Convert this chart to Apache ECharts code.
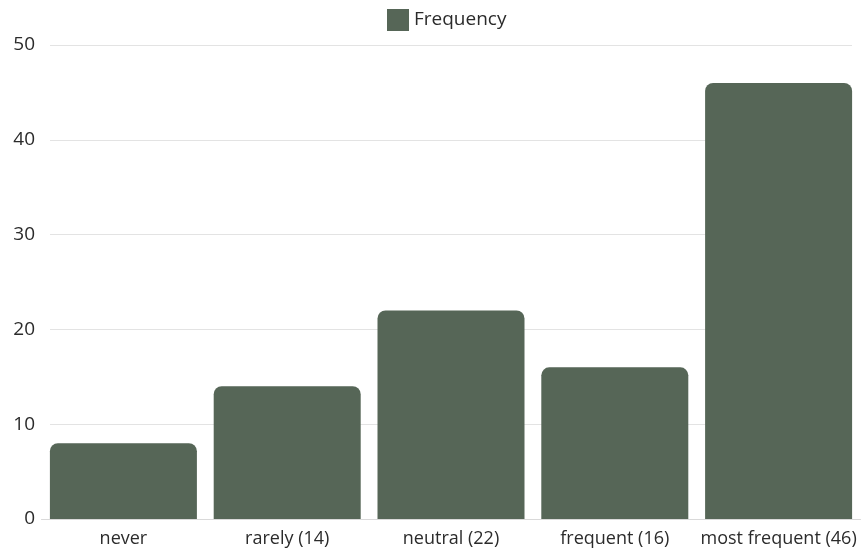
<!DOCTYPE html>
<html>
<head>
<meta charset="utf-8">
<style>
  html, body { margin: 0; padding: 0; background: #ffffff; }
  #chart { width: 864px; height: 550px; }
</style>
<script src="https://cdn.jsdelivr.net/npm/echarts@6/dist/echarts.min.js"></script>
</head>
<body>
<div id="chart"></div>
<script>
// Response categories and their counts
const categories = ['never', 'rarely (14)', 'neutral (22)', 'frequent (16)', 'most frequent (46)'];
const frequency = [8, 14, 22, 16, 46];
const yTicks = { min: 0, max: 50, interval: 10 };

const FONT = '"Open Sans", "Noto Sans", sans-serif';
const TEXT = '#2b2b2b';
const BAR = '#566657';

const chart = echarts.init(document.getElementById('chart'), null, { renderer: 'canvas' });

chart.setOption({
  animation: false,
  legend: {
    data: ['Frequency'],
    top: 9,
    left: 387,
    padding: 0,
    itemWidth: 22,
    itemHeight: 22,
    itemGap: 8,
    textStyle: { fontFamily: FONT, fontSize: 19, color: TEXT },
    icon: 'rect'
  },
  grid: [
    // grid for the value scale and its gridlines
    { left: 50, right: 12, top: 45, bottom: 31, containLabel: false },
    // grid for the bars, widened so the outer bars sit flush with the gridlines
    { left: 41.5, right: 3.5, top: 45, bottom: 31, containLabel: false }
  ],
  xAxis: [
    { gridIndex: 0, type: 'category', data: categories, show: false },
    {
      gridIndex: 1,
      type: 'category',
      data: categories,
      axisLine: { show: true, lineStyle: { color: '#d9d9d9', width: 1 } },
      axisTick: { show: false },
      axisLabel: { interval: 0, fontFamily: FONT, fontSize: 18, color: TEXT, margin: 11 }
    }
  ],
  yAxis: [
    {
      gridIndex: 0,
      type: 'value',
      min: yTicks.min,
      max: yTicks.max,
      interval: yTicks.interval,
      axisLine: { show: false },
      axisTick: { show: false },
      splitLine: { lineStyle: { color: '#e3e3e3', width: 1 } },
      axisLabel: { fontFamily: FONT, fontSize: 19, color: TEXT, margin: 15 }
    },
    {
      gridIndex: 1,
      type: 'value',
      min: yTicks.min,
      max: yTicks.max,
      interval: yTicks.interval,
      show: false,
      splitLine: { show: false }
    }
  ],
  series: [
    {
      name: 'Frequency',
      type: 'bar',
      xAxisIndex: 1,
      yAxisIndex: 1,
      data: frequency,
      barWidth: 147,
      itemStyle: { color: BAR, borderRadius: [8, 8, 0, 0] }
    }
  ]
});
</script>
</body>
</html>
